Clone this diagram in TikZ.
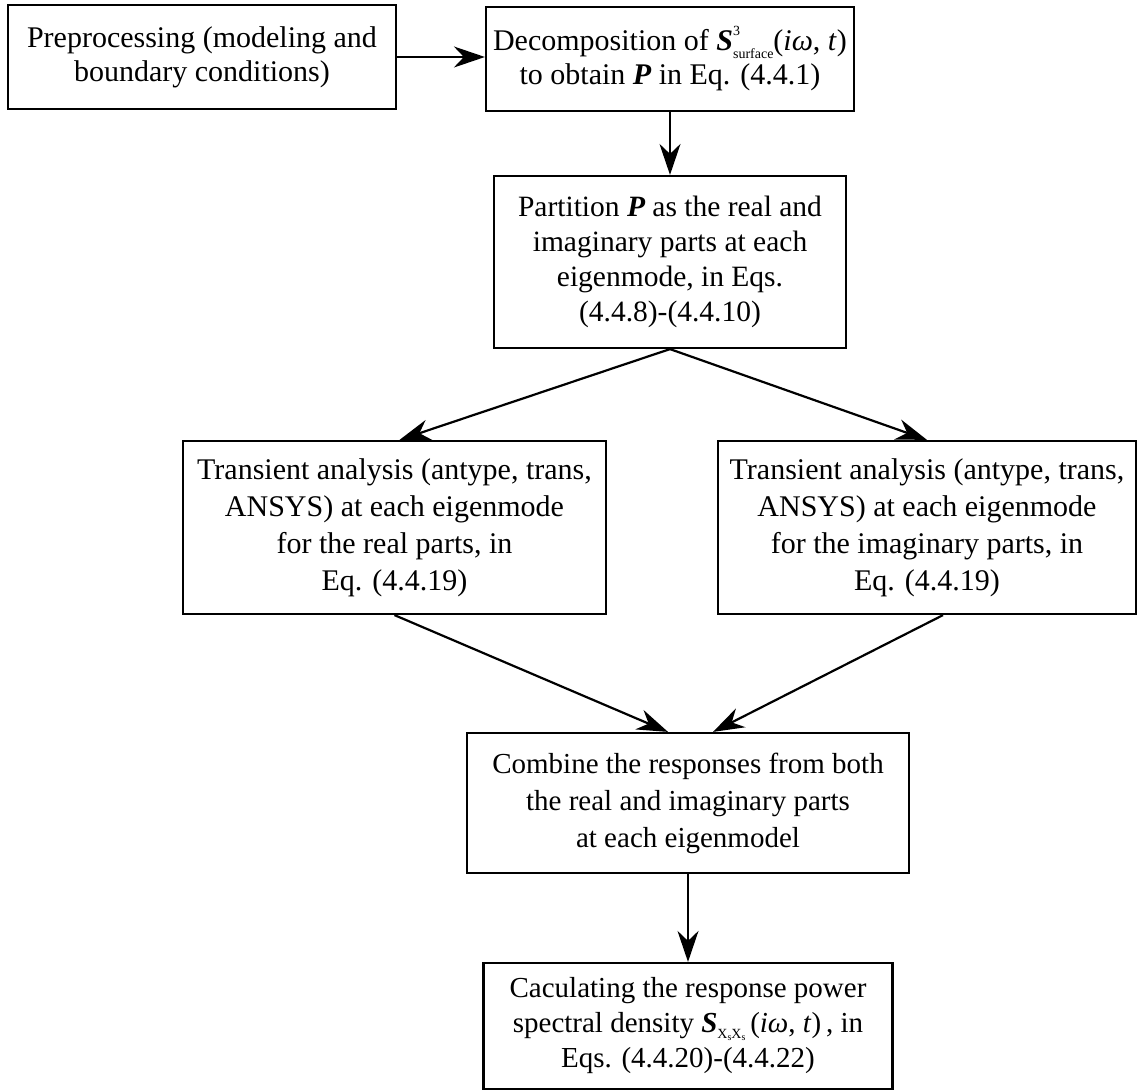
\documentclass[tikz,border=0pt]{standalone}
\usepackage{fontspec}
\setmainfont{Liberation Serif}
\usetikzlibrary{arrows.meta}
\newcommand{\bfit}[1]{{\bfseries\itshape #1}}
\newcommand{\tinyfs}[1]{{\fontsize{14}{14}\selectfont #1}}
\newcommand{\microfs}[1]{{\fontsize{10}{10}\selectfont #1}}
\begin{document}
\begin{tikzpicture}[x=1pt,y=-1pt,
  box/.style={draw=black, line width=2.2pt, rectangle, align=center, inner sep=0pt,
    font=\fontsize{29.5}{36}\selectfont},
  tight/.style={font=\fontsize{30}{34}\selectfont},
  arr/.style={line width=2.2pt, -{Stealth[length=31pt,width=21pt,inset=10pt]}}]
\useasboundingbox (0,0) rectangle (1138,1091);
\node[box, tight, minimum width=388pt, minimum height=104pt] (b1) at (202,57)
  {Preprocessing (modeling and\\boundary conditions)};
\node[box, tight, minimum width=368pt, minimum height=104pt] (b2) at (670,59)
  {Decomposition of \bfit{S}\rlap{\raisebox{0.5em}{\tinyfs{3}}}\raisebox{-0.25em}{\tinyfs{surface}}(\textit{iω}, \textit{t})\\to obtain \bfit{P} in Eq. (4.4.1)};
\node[box, font=\fontsize{29.5}{35}\selectfont, minimum width=352pt, minimum height=172pt] (b3) at (670,262)
  {Partition \bfit{P} as the real and\\imaginary parts at each\\eigenmode, in Eqs.\\(4.4.8)-(4.4.10)};
\node[box, font=\fontsize{30}{37}\selectfont, minimum width=423pt, minimum height=173pt] (b4) at (394.5,527.5)
  {Transient analysis (antype, trans,\\ANSYS) at each eigenmode\\for the real parts, in\\Eq. (4.4.19)};
\node[box, font=\fontsize{30}{37}\selectfont, minimum width=418pt, minimum height=173pt] (b5) at (927,527.5)
  {Transient analysis (antype, trans,\\ANSYS) at each eigenmode\\for the imaginary parts, in\\Eq. (4.4.19)};
\node[box, font=\fontsize{29}{37}\selectfont, minimum width=442pt, minimum height=140pt] (b6) at (688,803)
  {Combine the responses from both\\the real and imaginary parts\\at each eigenmodel};
\node[box, font=\fontsize{29}{35}\selectfont, minimum width=409pt, minimum height=126pt] (b7) at (688,1026)
  {Caculating the response power\\spectral density \bfit{S}\raisebox{-0.18em}{\tinyfs{X\raisebox{-0.15em}{\microfs{s}}X\raisebox{-0.15em}{\microfs{s}}}}\,(\textit{iω}, \textit{t})\,, in\\Eqs. (4.4.20)-(4.4.22)};
\coordinate (t6l) at ([xshift=-20pt]b6.north);
\coordinate (t6r) at ([xshift=25pt]b6.north);
\coordinate (s5) at ([xshift=16pt]b5.south);
\coordinate (t4) at ([xshift=5pt]b4.north);
\draw[arr] (b1.east) -- (b2.west |- b1.east);
\draw[arr] (b2.south) -- (b3.north);
\draw[arr] (b3.south) -- (t4);
\draw[arr] (b3.south) -- (b5.north);
\draw[arr] (b4.south) -- (t6l);
\draw[arr] (s5) -- (t6r);
\draw[arr] (b6.south) -- (b7.north);
\end{tikzpicture}
\end{document}
